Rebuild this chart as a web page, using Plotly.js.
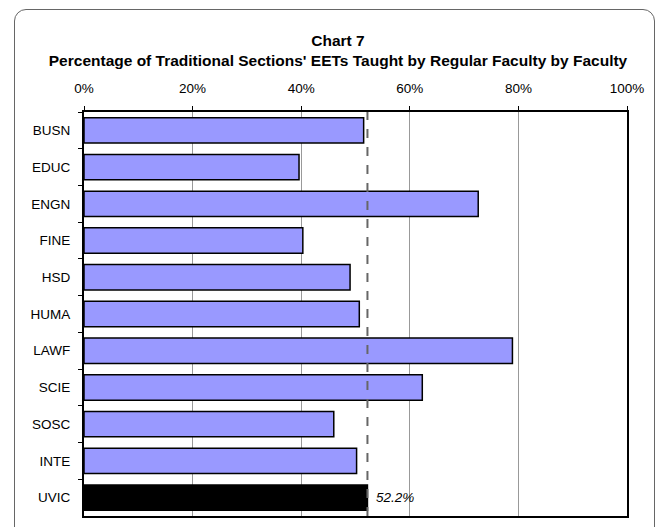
<!DOCTYPE html>
<html>
<head>
<meta charset="utf-8">
<script src="https://cdn.plot.ly/plotly-3.0.1.min.js"></script>
<style>
  html, body { margin: 0; padding: 0; background: #fff; }
  #wrap { position: relative; width: 659px; height: 527px; }
  #frame { position: absolute; left: 14px; top: 9px; width: 641px; height: 530px;
           border: 1px solid #666; border-radius: 12px; box-sizing: border-box; pointer-events: none; }
  #chart { position: absolute; left: 0; top: 0; width: 659px; height: 527px; }
</style>
</head>
<body>
<div id="wrap">
  <div id="chart"></div>
  <div id="frame"></div>
</div>
<script>
const categories = ["BUSN", "EDUC", "ENGN", "FINE", "HSD", "HUMA", "LAWF", "SCIE", "SOSC", "INTE", "UVIC"];
const percentages = [51.5, 39.6, 72.6, 40.3, 49.0, 50.7, 78.9, 62.3, 46.0, 50.2, 52.2];
const uvicAverage = 52.2;
const xTickValues = [0, 20, 40, 60, 80, 100];
const xTickLabels = ["0%", "20%", "40%", "60%", "80%", "100%"];

const barColors = categories.map(c => c === "UVIC" ? "#000000" : "#9999FF");

const trace = {
  type: "bar",
  orientation: "h",
  y: categories,
  x: percentages,
  marker: { color: barColors, line: { color: "#000000", width: 1.5 } },
  hoverinfo: "x+y"
};

const layout = {
  width: 659,
  height: 527,
  margin: { l: 84, r: 32, t: 112, b: 11 },
  paper_bgcolor: "#ffffff",
  plot_bgcolor: "#ffffff",
  font: { family: "Liberation Sans, Arial, sans-serif", color: "#000", size: 13 },
  showlegend: false,
  bargap: 0.31,
  title: {
    text: "<b>Chart 7</b><br><b>Percentage of Traditional Sections' EETs Taught by Regular Faculty by Faculty</b>",
    font: { size: 15.5, color: "#000", family: "Liberation Sans, Arial, sans-serif" },
    x: 338 / 659, xanchor: "center",
    y: 1 - 46 / 527, yanchor: "top", yref: "container"
  },
  xaxis: {
    side: "top",
    range: [0, 100],
    tickvals: xTickValues,
    ticktext: xTickLabels,
    showgrid: true,
    gridcolor: "#999999",
    gridwidth: 1,
    zeroline: false,
    showline: true,
    mirror: true,
    linecolor: "#000000",
    linewidth: 2,
    ticks: "outside",
    ticklen: 4,
    tickcolor: "#000",
    tickfont: { size: 13.5 },
    ticklabelstandoff: 8,
    fixedrange: true
  },
  yaxis: {
    autorange: "reversed",
    type: "category",
    showline: true,
    mirror: true,
    linecolor: "#000000",
    linewidth: 2,
    ticks: "outside",
    tickson: "boundaries",
    ticklen: 4,
    tickcolor: "#000",
    tickfont: { size: 13.5 },
    ticklabelstandoff: 9,
    showgrid: false,
    fixedrange: true
  },
  shapes: [{
    type: "line",
    xref: "x", yref: "paper",
    x0: uvicAverage, x1: uvicAverage, y0: 0, y1: 1,
    line: { color: "#666666", width: 2, dash: "dash" },
    layer: "above"
  }],
  annotations: [{
    x: uvicAverage, y: "UVIC",
    xref: "x", yref: "y",
    text: "<i>" + uvicAverage.toFixed(1) + "%</i>",
    showarrow: false,
    xanchor: "left", yanchor: "middle",
    xshift: 7,
    font: { size: 13.5, color: "#000" }
  }]
};

Plotly.newPlot("chart", [trace], layout, { displayModeBar: false, staticPlot: true });
</script>
</body>
</html>
